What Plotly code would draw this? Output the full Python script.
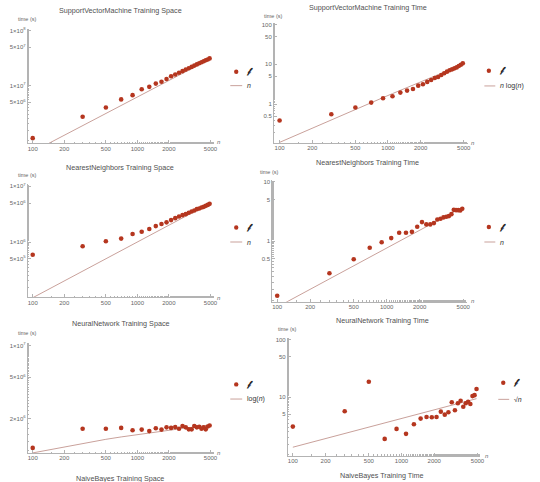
import math
import plotly.graph_objects as go

# ---------------- data ----------------
n_vals = [100, 300, 500, 700, 900, 1100, 1300, 1500, 1700, 1900, 2100, 2300, 2500,
          2700, 2900, 3100, 3300, 3500, 3700, 3900, 4100, 4300, 4500, 4700, 4900]

svm_space = [1.1e6, 2.7e6, 4.0e6, 5.6e6, 6.7e6, 8.6e6, 9.5e6, 1.09e7, 1.18e7, 1.32e7,
             1.48e7, 1.60e7, 1.72e7, 1.84e7, 1.96e7, 2.08e7, 2.2e7, 2.32e7, 2.44e7, 2.56e7,
             2.68e7, 2.78e7, 2.9e7, 3.0e7, 3.14e7]
svm_time = [0.39, 0.56, 0.83, 1.10, 1.41, 1.58, 1.96, 2.2, 2.42, 2.93, 3.16, 3.63, 4.07,
            4.57, 4.83, 5.43, 5.97, 6.56, 7.1, 7.5, 7.94, 8.4, 9.1, 9.8, 10.6]
nn_space = [5.9e5, 8.4e5, 1.03e6, 1.15e6, 1.39e6, 1.53e6, 1.71e6, 1.93e6, 2.1e6, 2.25e6,
            2.47e6, 2.68e6, 2.87e6, 3.03e6, 3.16e6, 3.34e6, 3.53e6, 3.68e6, 3.88e6, 4.0e6,
            4.16e6, 4.27e6, 4.45e6, 4.63e6, 4.83e6]
nn_time = [0.118, 0.285, 0.49, 0.77, 0.95, 1.12, 1.38, 1.38, 1.43, 1.74, 2.09, 1.91, 1.91,
           2.01, 2.32, 2.38, 2.51, 2.57, 2.64, 2.85, 3.37, 3.33, 3.33, 3.29, 3.51]
neural_space = [1.05e6, 1.6e6, 1.6e6, 1.63e6, 1.55e6, 1.57e6, 1.52e6, 1.62e6, 1.57e6, 1.65e6,
                1.63e6, 1.66e6, 1.6e6, 1.7e6, 1.65e6, 1.58e6, 1.58e6, 1.7e6, 1.65e6, 1.67e6,
                1.6e6, 1.65e6, 1.58e6, 1.68e6, 1.72e6]
neural_time = [3.06, 5.65, 18.5, 1.87, 2.79, 2.29, 3.36, 4.22, 4.5, 4.45, 4.5, 5.57, 4.94,
               5.43, 8.1, 5.88, 7.8, 8.65, 6.8, 7.8, 8.3, 7.57, 10.4, 10.8, 13.8]

# fitted model coefficients
coef_svm_space = 6200.0      # c * n
coef_svm_time = 2.4e-4       # c * n log n
coef_nn_space = 1000.0       # c * n
coef_nn_time = 7.6e-4        # c * n
coef_neural_space = 2.04e5   # c * log n
coef_neural_time = 0.134     # c * sqrt n

titles = ["SupportVectorMachine Training Space", "SupportVectorMachine Training Time",
          "NearestNeighbors Training Space", "NearestNeighbors Training Time",
          "NeuralNetwork Training Space", "NeuralNetwork Training Time"]
next_titles = ["NaiveBayes Training Space", "NaiveBayes Training Time"]
legend_data_label = "\U0001D4EF"
legend_model_labels = ["<i>n</i>", "<i>n</i> log(<i>n</i>)", "<i>n</i>",
                       "<i>n</i>", "log(<i>n</i>)", "\u221A<i>n</i>"]

x_tickvals = [100, 200, 500, 1000, 2000, 5000]
x_ticktext = ["100", "200", "500", "1000", "2000", "5000"]
y_ticks = [
    ([1e8, 5e7, 1e7, 5e6], ["1\u00d710<sup>8</sup>", "5\u00d710<sup>7</sup>", "1\u00d710<sup>7</sup>", "5\u00d710<sup>6</sup>"]),
    ([100, 50, 10, 5, 1, 0.5], ["100", "50", "10", "5", "1", "0.5"]),
    ([1e7, 5e6, 1e6, 5e5], ["1\u00d710<sup>7</sup>", "5\u00d710<sup>6</sup>", "1\u00d710<sup>6</sup>", "5\u00d710<sup>5</sup>"]),
    ([10, 5, 1, 0.5], ["10", "5", "1", "0.5"]),
    ([1e7, 5e6, 2e6], ["1\u00d710<sup>7</sup>", "5\u00d710<sup>6</sup>", "2\u00d710<sup>6</sup>"]),
    ([100, 50, 10, 5], ["100", "50", "10", "5"]),
]

models = [
    [coef_svm_space * n for n in n_vals],
    [coef_svm_time * n * math.log(n) for n in n_vals],
    [coef_nn_space * n for n in n_vals],
    [coef_nn_time * n for n in n_vals],
    [coef_neural_space * math.log(n) for n in n_vals],
    [coef_neural_time * math.sqrt(n) for n in n_vals],
]
series = [svm_space, svm_time, nn_space, nn_time, neural_space, neural_time]

# ---------------- layout geometry (pixels) ----------------
W, H = 540, 482
def px(x): return x / W
def py(y): return 1 - y / H

panels = [
    dict(dx=(28, 216), dy=(27, 142), xr=(1.953, 3.736), yr=(5.945, 8.036),
         title=(121, 9), tlab=(28, 17.5), nlab=(221, 141), leg=(238, 70, 232, 244, 84)),
    dict(dx=(276, 471), dy=(21, 141.7), xr=(1.948, 3.7335), yr=(-0.975, 2.04),
         title=(371, 6), tlab=(276, 14), nlab=(477, 142), leg=(492.5, 69, 488, 499, 84.3)),
    dict(dx=(28, 216), dy=(183, 296.7), xr=(1.953, 3.736), yr=(5.005, 7.036),
         title=(121, 166), tlab=(28, 174), nlab=(221, 297), leg=(238, 226.5, 232, 244, 241)),
    dict(dx=(274.3, 470), dy=(179, 301), xr=(1.955, 3.729), yr=(-1.029, 1.029),
         title=(370.5, 161.5), tlab=(272, 171), nlab=(477, 300), leg=(492.5, 226, 488, 499, 241)),
    dict(dx=(28, 216), dy=(342, 453), xr=(1.953, 3.736), yr=(5.971, 7.029),
         title=(121, 322.5), tlab=(28, 332), nlab=(221, 453), leg=(238, 384, 232, 244, 398.7)),
    dict(dx=(290, 484), dy=(337, 455.7), xr=(1.954, 3.726), yr=(-0.0225, 2.035),
         title=(385.5, 320), tlab=(290, 328), nlab=(491, 456), leg=(507, 382.3, 502, 513, 399)),
]

DOT = "#b5361f"
LINE = "#c9a19b"
AXIS = "#b3b3b3"
TICKC = "#666666"
TITLEC = "#505050"
FONT = "Liberation Sans, Arial, sans-serif"

fig = go.Figure()
annotations = []
shapes = []
layout_axes = {}

for i, p in enumerate(panels):
    k = "" if i == 0 else str(i + 1)
    xa, ya = "x" + k, "y" + k
    fig.add_trace(go.Scatter(x=n_vals, y=models[i], mode="lines", xaxis=xa, yaxis=ya,
                             line=dict(color=LINE, width=1), showlegend=False, hoverinfo="skip"))
    fig.add_trace(go.Scatter(x=n_vals, y=series[i], mode="markers", xaxis=xa, yaxis=ya,
                             marker=dict(color=DOT, size=4.6, line=dict(width=0)),
                             showlegend=False, cliponaxis=False))
    yv, yt = y_ticks[i]
    layout_axes["xaxis" + k] = dict(
        type="log", range=list(p["xr"]), domain=[px(p["dx"][0]), px(p["dx"][1])],
        anchor=ya, showgrid=False, zeroline=False, showline=True, linecolor=AXIS, linewidth=1,
        tickvals=x_tickvals, ticktext=x_ticktext, ticks="inside", ticklen=3, tickcolor=AXIS,
        ticklabelstandoff=-1,
        tickfont=dict(size=6, color=TICKC, family=FONT),
        minor=dict(ticks="inside", ticklen=1.5, tickcolor=AXIS, showgrid=False),
        fixedrange=True)
    layout_axes["yaxis" + k] = dict(
        type="log", range=list(p["yr"]), domain=[py(p["dy"][1]), py(p["dy"][0])],
        anchor=xa, showgrid=False, zeroline=False, showline=True, linecolor=AXIS, linewidth=1,
        tickvals=yv, ticktext=yt, ticks="inside", ticklen=3, tickcolor=AXIS,
        tickfont=dict(size=6, color=TICKC, family=FONT),
        minor=dict(ticks="inside", ticklen=1.5, tickcolor=AXIS, showgrid=False),
        fixedrange=True)

    annotations.append(dict(x=px(p["title"][0]), y=py(p["title"][1]), xref="paper", yref="paper",
                            text=titles[i], showarrow=False, xanchor="center", yanchor="middle",
                            font=dict(size=7.2, color=TITLEC, family=FONT)))
    annotations.append(dict(x=px(p["tlab"][0]), y=py(p["tlab"][1]), xref="paper", yref="paper",
                            text="time (s)", showarrow=False, xanchor="center", yanchor="middle",
                            font=dict(size=5.5, color=TICKC, family=FONT)))
    annotations.append(dict(x=px(p["nlab"][0]), y=py(p["nlab"][1]), xref="paper", yref="paper",
                            text="<i>n</i>", showarrow=False, xanchor="center", yanchor="middle",
                            font=dict(size=6, color=TICKC, family=FONT)))
    dxp, dyp, lx0, lx1, ly = p["leg"]
    r = 2.2
    shapes.append(dict(type="circle", xref="paper", yref="paper",
                       x0=px(dxp - r), x1=px(dxp + r), y0=py(dyp + r), y1=py(dyp - r),
                       fillcolor=DOT, line=dict(width=0)))
    shapes.append(dict(type="line", xref="paper", yref="paper",
                       x0=px(lx0), x1=px(lx1), y0=py(ly), y1=py(ly),
                       line=dict(color=LINE, width=1)))
    annotations.append(dict(x=px(dxp + 8), y=py(dyp), xref="paper", yref="paper",
                            text="<b>" + legend_data_label + "</b>", showarrow=False,
                            xanchor="left", yanchor="middle",
                            font=dict(size=7.5, color="#222222", family="DejaVu Serif, serif")))
    annotations.append(dict(x=px(lx1 + 3), y=py(ly), xref="paper", yref="paper",
                            text=legend_model_labels[i], showarrow=False,
                            xanchor="left", yanchor="middle",
                            font=dict(size=7, color="#333333", family=FONT)))

for (tx, ty), t in zip([(121, 478), (385, 475)], next_titles):
    annotations.append(dict(x=px(tx), y=py(ty), xref="paper", yref="paper", text=t,
                            showarrow=False, xanchor="center", yanchor="middle",
                            font=dict(size=7.2, color=TITLEC, family=FONT)))

fig.update_layout(width=W, height=H, margin=dict(l=0, r=0, t=0, b=0),
                  paper_bgcolor="white", plot_bgcolor="white", showlegend=False,
                  annotations=annotations, shapes=shapes, **layout_axes)

fig.write_html("out.html", include_plotlyjs=True, config=dict(displayModeBar=False),
               post_script="document.body.style.margin='0';document.body.style.overflow='hidden';")
